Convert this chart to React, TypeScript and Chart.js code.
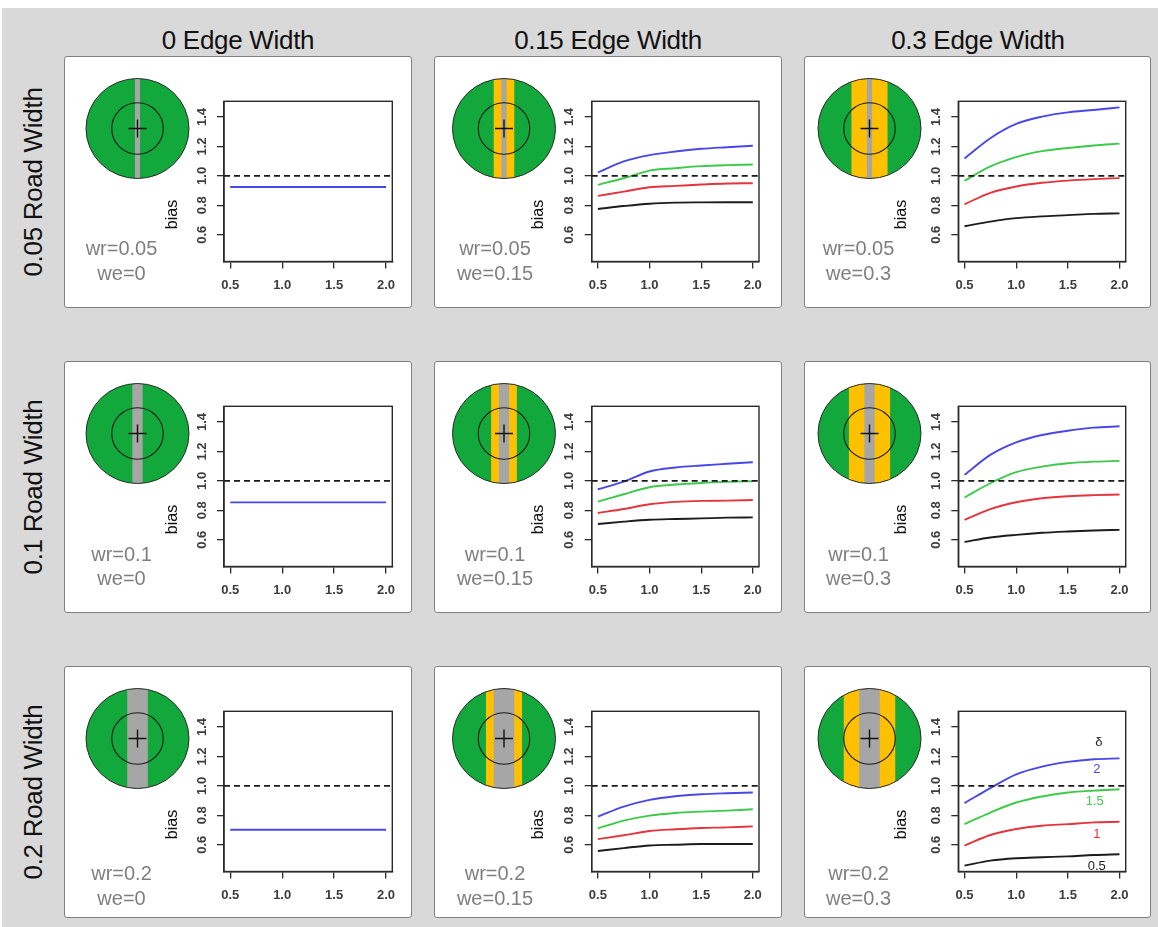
import React, { useEffect, useRef } from 'react';
import { Chart, registerables } from 'chart.js';

Chart.register(...registerables);

const FONT = '"Liberation Sans", Arial, Helvetica, sans-serif';

// ---------------- data ----------------
const roadWidths = [0.05, 0.1, 0.2];
const edgeWidths = [0, 0.15, 0.3];
const columnTitles = ['0 Edge Width', '0.15 Edge Width', '0.3 Edge Width'];
const rowTitles = ['0.05 Road Width', '0.1 Road Width', '0.2 Road Width'];

const xValues = [0.5, 0.75, 1.0, 1.25, 1.5, 1.75, 2.0];
const xTicks = [0.5, 1.0, 1.5, 2.0];
const yTicks = [0.6, 0.8, 1.0, 1.2, 1.4];
const xRange = [0.44, 2.06];
const yRange = [0.418, 1.507];
const referenceBias = 1.0;

const deltaNames = ['0.5', '1', '1.5', '2'];
const deltaColors = ['#1c1c1c', '#e5343c', '#3dc94a', '#4848e8'];
const innerCircleRadius = 0.5;

// we = 0 : a single (blue) curve
const bias_wr005_we0 = [0.924, 0.924, 0.924, 0.924, 0.924, 0.924, 0.924];
const bias_wr01_we0 = [0.854, 0.854, 0.854, 0.854, 0.854, 0.854, 0.854];
const bias_wr02_we0 = [0.702, 0.702, 0.702, 0.702, 0.702, 0.702, 0.702];

// wr = 0.05, we = 0.15  (delta 0.5, 1, 1.5, 2)
const bias_wr005_we015_d05 = [0.775, 0.795, 0.811, 0.818, 0.820, 0.821, 0.821];
const bias_wr005_we015_d1 = [0.864, 0.893, 0.923, 0.932, 0.941, 0.948, 0.950];
const bias_wr005_we015_d15 = [0.939, 0.984, 1.036, 1.052, 1.066, 1.073, 1.077];
const bias_wr005_we015_d2 = [1.023, 1.098, 1.141, 1.166, 1.184, 1.195, 1.205];

// wr = 0.05, we = 0.3
const bias_wr005_we03_d05 = [0.658, 0.689, 0.713, 0.725, 0.733, 0.742, 0.745];
const bias_wr005_we03_d1 = [0.807, 0.885, 0.928, 0.953, 0.968, 0.978, 0.985];
const bias_wr005_we03_d15 = [0.966, 1.064, 1.128, 1.168, 1.190, 1.207, 1.219];
const bias_wr005_we03_d2 = [1.118, 1.256, 1.353, 1.403, 1.432, 1.448, 1.466];

// wr = 0.1, we = 0.15
const bias_wr01_we015_d05 = [0.707, 0.723, 0.736, 0.741, 0.745, 0.750, 0.752];
const bias_wr01_we015_d1 = [0.782, 0.809, 0.841, 0.857, 0.864, 0.866, 0.870];
const bias_wr01_we015_d15 = [0.859, 0.909, 0.957, 0.975, 0.986, 0.993, 0.998];
const bias_wr01_we015_d2 = [0.943, 0.995, 1.064, 1.091, 1.105, 1.116, 1.127];

// wr = 0.1, we = 0.3
const bias_wr01_we03_d05 = [0.585, 0.615, 0.633, 0.647, 0.656, 0.663, 0.667];
const bias_wr01_we03_d1 = [0.735, 0.808, 0.855, 0.882, 0.896, 0.903, 0.907];
const bias_wr01_we03_d15 = [0.887, 0.984, 1.059, 1.097, 1.120, 1.131, 1.136];
const bias_wr01_we03_d2 = [1.041, 1.177, 1.262, 1.312, 1.341, 1.362, 1.371];

// wr = 0.2, we = 0.15
const bias_wr02_we015_d05 = [0.557, 0.577, 0.595, 0.600, 0.605, 0.605, 0.605];
const bias_wr02_we015_d1 = [0.638, 0.664, 0.693, 0.705, 0.714, 0.718, 0.725];
const bias_wr02_we015_d15 = [0.711, 0.764, 0.798, 0.816, 0.825, 0.832, 0.841];
const bias_wr02_we015_d2 = [0.791, 0.859, 0.905, 0.930, 0.943, 0.950, 0.955];

// wr = 0.2, we = 0.3
const bias_wr02_we03_d05 = [0.458, 0.492, 0.508, 0.515, 0.521, 0.530, 0.535];
const bias_wr02_we03_d1 = [0.594, 0.666, 0.707, 0.729, 0.740, 0.752, 0.756];
const bias_wr02_we03_d15 = [0.740, 0.819, 0.887, 0.928, 0.955, 0.968, 0.977];
const bias_wr02_we03_d2 = [0.883, 0.985, 1.079, 1.131, 1.163, 1.181, 1.187];

// in-plot curve labels (bottom-right panel)
const curveLabelX = [1.78, 1.78, 1.76, 1.78];
const curveLabelY = [0.454, 0.673, 0.892, 1.113];
const deltaHeader = 'δ';
const deltaHeaderX = 1.8;
const deltaHeaderY = 1.298;

const panelSeries: number[][][][] = [
  [[bias_wr005_we0], [bias_wr005_we015_d05, bias_wr005_we015_d1, bias_wr005_we015_d15, bias_wr005_we015_d2], [bias_wr005_we03_d05, bias_wr005_we03_d1, bias_wr005_we03_d15, bias_wr005_we03_d2]],
  [[bias_wr01_we0], [bias_wr01_we015_d05, bias_wr01_we015_d1, bias_wr01_we015_d15, bias_wr01_we015_d2], [bias_wr01_we03_d05, bias_wr01_we03_d1, bias_wr01_we03_d15, bias_wr01_we03_d2]],
  [[bias_wr02_we0], [bias_wr02_we015_d05, bias_wr02_we015_d1, bias_wr02_we015_d15, bias_wr02_we015_d2], [bias_wr02_we03_d05, bias_wr02_we03_d1, bias_wr02_we03_d15, bias_wr02_we03_d2]],
];

// ---------------- layout (pixels) ----------------
const PANEL_LEFT = [64, 434, 804];
const PANEL_TOP = [56, 361, 666];
const PANEL_W = [348, 348, 347];
const PANEL_H = 252;
const PLOT_LEFT = [160, 157.7, 154.3];
const PLOT_RIGHT = [328.3, 325, 321.7];
const PLOT_TOP = 45.3;
const PLOT_BOTTOM = 205.5;
const LC_LEFT = 90;
const LC_W = 258;
const Y_AXIS_W = 40;
const X_AXIS_H = 40;
const BIAS_DX = [51, 53.4, 56.6];
const BIAS_Y = 158.5;
const DISK_CX = [73.5, 70, 65.5];
const DISK_CY = 72.5;
const DISK_RX = 51.5;
const DISK_RY = 50;
const DISK_CANVAS = 150;
const TEXT_CX = [57.5, 61, 54.5];
const TEXT_Y1 = [192, 192.5, 207.3];
const TEXT_Y2 = [216.7, 216.7, 232.3];

const GREEN = '#12a83b';
const YELLOW = '#ffc000';
const ROAD_GREY = '#a6a6a6';
const AXIS_COLOR = '#2a2a2a';
const TICK_TEXT = '#3c3c3c';

const framePlugin = {
  id: 'frame',
  afterDraw(chart: any) {
    const { ctx, chartArea: a } = chart;
    ctx.save();
    ctx.strokeStyle = AXIS_COLOR;
    ctx.lineWidth = 1.4;
    ctx.strokeRect(a.left, a.top, a.right - a.left, a.bottom - a.top);
    ctx.restore();
  },
};

function makeBiasPlugin(col: number) {
  return {
    id: 'biasLabel',
    afterDraw(chart: any) {
      const { ctx, chartArea: a } = chart;
      ctx.save();
      ctx.translate(a.left - BIAS_DX[col], BIAS_Y);
      ctx.rotate(-Math.PI / 2);
      ctx.font = `16px ${FONT}`;
      ctx.fillStyle = '#111';
      ctx.textAlign = 'center';
      ctx.textBaseline = 'middle';
      ctx.fillText('bias', 0, 0);
      ctx.restore();
    },
  };
}

const curveLabelPlugin = {
  id: 'curveLabels',
  afterDatasetsDraw(chart: any) {
    const { ctx } = chart;
    const sx = chart.scales.x;
    const sy = chart.scales.y;
    ctx.save();
    ctx.font = `13px ${FONT}`;
    ctx.textAlign = 'center';
    ctx.textBaseline = 'middle';
    ctx.fillStyle = '#222';
    ctx.fillText(deltaHeader, sx.getPixelForValue(deltaHeaderX), sy.getPixelForValue(deltaHeaderY));
    deltaNames.forEach((name, i) => {
      ctx.fillStyle = deltaColors[i];
      ctx.fillText(name, sx.getPixelForValue(curveLabelX[i]), sy.getPixelForValue(curveLabelY[i]));
    });
    ctx.restore();
  },
};

function axisOptions(ticksList: number[], isY: boolean) {
  return {
    type: 'linear',
    min: isY ? yRange[0] : xRange[0],
    max: isY ? yRange[1] : xRange[1],
    afterBuildTicks: (s: any) => {
      s.ticks = ticksList.map((v) => ({ value: v }));
    },
    afterFit: (s: any) => {
      if (isY) s.width = Y_AXIS_W;
      else s.height = X_AXIS_H;
    },
    grid: { drawOnChartArea: false, drawTicks: true, tickLength: 7, color: AXIS_COLOR, lineWidth: 1.3 },
    border: { display: true, color: AXIS_COLOR, width: 1.4 },
    ticks: isY
      ? {
          padding: 6,
          crossAlign: 'center',
          minRotation: 90,
          maxRotation: 90,
          autoSkip: false,
          color: TICK_TEXT,
          font: { family: FONT, size: 13, weight: 'bold' },
          callback: (v: any) => Number(v).toFixed(1),
        }
      : {
          padding: 9,
          maxRotation: 0,
          autoSkip: false,
          color: TICK_TEXT,
          font: { family: FONT, size: 13, weight: 'bold' },
          callback: (v: any) => Number(v).toFixed(1),
        },
  };
}

function BiasChart({ row, col }: { row: number; col: number }) {
  const ref = useRef<HTMLCanvasElement>(null);
  useEffect(() => {
    if (!ref.current) return;
    const series = panelSeries[row][col];
    const datasets: any[] = [
      {
        data: xRange.map((x) => ({ x, y: referenceBias })),
        borderColor: '#1a1a1a',
        borderWidth: 1.6,
        borderDash: [6, 4],
        pointRadius: 0,
        tension: 0,
      },
    ];
    series.forEach((s, i) => {
      const ci = series.length === 1 ? 3 : i;
      datasets.push({
        data: xValues.map((x, k) => ({ x, y: s[k] })),
        borderColor: deltaColors[ci],
        borderWidth: 1.9,
        pointRadius: 0,
        cubicInterpolationMode: 'monotone',
      });
    });
    const plugins: any[] = [framePlugin, makeBiasPlugin(col)];
    if (row === 2 && col === 2) plugins.push(curveLabelPlugin);
    const chart = new Chart(ref.current, {
      type: 'line',
      data: { datasets },
      options: {
        animation: false,
        responsive: false,
        events: [],
        layout: {
          autoPadding: false,
          padding: {
            left: PLOT_LEFT[col] - LC_LEFT - Y_AXIS_W,
            right: LC_W - (PLOT_RIGHT[col] - LC_LEFT),
            top: PLOT_TOP,
            bottom: PANEL_H - PLOT_BOTTOM - X_AXIS_H,
          },
        },
        plugins: { legend: { display: false }, tooltip: { enabled: false } },
        scales: {
          x: axisOptions(xTicks, false),
          y: axisOptions(yTicks, true),
        },
      } as any,
      plugins,
    });
    return () => chart.destroy();
  }, [row, col]);
  return (
    <canvas
      ref={ref}
      width={LC_W}
      height={PANEL_H}
      style={{ position: 'absolute', left: LC_LEFT, top: 0, width: LC_W, height: PANEL_H }}
    />
  );
}

function DiskChart({ row, col }: { row: number; col: number }) {
  const ref = useRef<HTMLCanvasElement>(null);
  useEffect(() => {
    if (!ref.current) return;
    const wr = roadWidths[row];
    const we = edgeWidths[col];
    const cx = DISK_CX[col];
    const diskPlugin = {
      id: 'disk',
      beforeDatasetsDraw(chart: any) {
        const { ctx } = chart;
        const sx = chart.scales.x;
        const sy = chart.scales.y;
        const px = sx.getPixelForValue(0);
        const py = sy.getPixelForValue(0);
        const rx = sx.getPixelForValue(1) - px;
        const ry = py - sy.getPixelForValue(1);
        ctx.save();
        ctx.beginPath();
        ctx.ellipse(px, py, rx, ry, 0, 0, Math.PI * 2);
        ctx.fillStyle = GREEN;
        ctx.fill();
        ctx.clip();
        if (we > 0) {
          const e0 = sx.getPixelForValue(-(wr + we));
          const e1 = sx.getPixelForValue(wr + we);
          ctx.fillStyle = YELLOW;
          ctx.fillRect(e0, 0, e1 - e0, chart.height);
        }
        const g0 = sx.getPixelForValue(-wr);
        const g1 = sx.getPixelForValue(wr);
        ctx.fillStyle = ROAD_GREY;
        ctx.fillRect(g0, 0, g1 - g0, chart.height);
        ctx.restore();
        ctx.save();
        ctx.beginPath();
        ctx.ellipse(px, py, rx, ry, 0, 0, Math.PI * 2);
        ctx.strokeStyle = '#2b2b2b';
        ctx.lineWidth = 1;
        ctx.stroke();
        ctx.restore();
      },
    };
    const chart = new Chart(ref.current, {
      type: 'scatter',
      data: {
        datasets: [
          {
            data: [{ x: 0, y: 0 }],
            pointStyle: 'circle',
            pointRadius: innerCircleRadius * DISK_RX,
            backgroundColor: 'rgba(0,0,0,0)',
            borderColor: '#1a1a1a',
            borderWidth: 1.1,
          },
          {
            data: [{ x: 0, y: 0 }],
            pointStyle: 'cross',
            pointRadius: 9,
            borderColor: '#111',
            borderWidth: 1.4,
          },
        ],
      },
      options: {
        animation: false,
        responsive: false,
        events: [],
        layout: { autoPadding: false, padding: 0 },
        plugins: { legend: { display: false }, tooltip: { enabled: false } },
        scales: {
          x: { type: 'linear', display: false, min: -cx / DISK_RX, max: (DISK_CANVAS - cx) / DISK_RX },
          y: { type: 'linear', display: false, min: -(DISK_CANVAS - DISK_CY) / DISK_RY, max: DISK_CY / DISK_RY },
        },
      } as any,
      plugins: [diskPlugin],
    });
    return () => chart.destroy();
  }, [row, col]);
  return (
    <canvas
      ref={ref}
      width={DISK_CANVAS}
      height={DISK_CANVAS}
      style={{ position: 'absolute', left: 0, top: 0, width: DISK_CANVAS, height: DISK_CANVAS }}
    />
  );
}

function Panel({ row, col }: { row: number; col: number }) {
  const textStyle: React.CSSProperties = {
    position: 'absolute',
    left: TEXT_CX[col] - 60,
    width: 120,
    textAlign: 'center',
    fontSize: 20,
    lineHeight: '20px',
    color: '#7f7f7f',
    fontFamily: FONT,
    whiteSpace: 'nowrap',
  };
  return (
    <div
      style={{
        position: 'absolute',
        left: PANEL_LEFT[col],
        top: PANEL_TOP[row],
        width: PANEL_W[col],
        height: PANEL_H,
        boxSizing: 'border-box',
        background: '#fff',
        border: '1px solid #808080',
        borderRadius: 3,
      }}
    >
      <div style={{ position: 'absolute', left: -1, top: -1, width: PANEL_W[col], height: PANEL_H }}>
        <DiskChart row={row} col={col} />
        <BiasChart row={row} col={col} />
        <div style={{ ...textStyle, top: TEXT_Y1[row] - 10 }}>{`wr=${roadWidths[row]}`}</div>
        <div style={{ ...textStyle, top: TEXT_Y2[row] - 10 }}>{`we=${edgeWidths[col]}`}</div>
      </div>
    </div>
  );
}

export default function App() {
  return (
    <div
      style={{
        position: 'absolute',
        left: 0,
        top: 0,
        width: 1158,
        height: 927,
        background: '#fff',
        overflow: 'hidden',
        fontFamily: FONT,
      }}
    >
      <div style={{ position: 'absolute', left: 2, top: 8, right: 0, bottom: 0, background: '#d9d9d9' }} />
      {columnTitles.map((t, c) => (
        <div
          key={t}
          style={{
            position: 'absolute',
            left: PANEL_LEFT[c] + 174 - 150,
            top: 25.5,
            width: 300,
            textAlign: 'center',
            fontSize: 26,
            lineHeight: '28px',
            letterSpacing: '-0.3px',
            color: '#111',
            whiteSpace: 'nowrap',
          }}
        >
          {t}
        </div>
      ))}
      {rowTitles.map((t, r) => (
        <div
          key={t}
          style={{
            position: 'absolute',
            left: 33 - 130,
            top: PANEL_TOP[r] + 126 - 15,
            width: 260,
            height: 30,
            lineHeight: '30px',
            textAlign: 'center',
            fontSize: 26,
            letterSpacing: '-0.3px',
            color: '#111',
            whiteSpace: 'nowrap',
            transform: 'rotate(-90deg)',
          }}
        >
          {t}
        </div>
      ))}
      {[0, 1, 2].map((r) => [0, 1, 2].map((c) => <Panel key={`${r}-${c}`} row={r} col={c} />))}
    </div>
  );
}
